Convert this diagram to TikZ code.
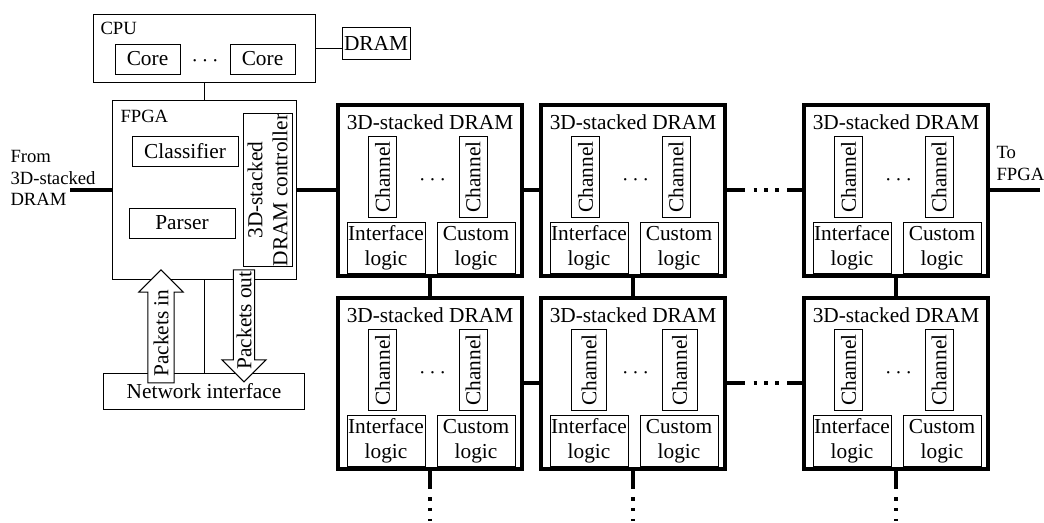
\documentclass[tikz,border=0pt]{standalone}
\usepackage{fontspec}
\setmainfont{Liberation Serif}
\usetikzlibrary{shapes.arrows}

\tikzset{every picture/.style={line width=0.75pt}}
\tikzset{
	blk/.style={draw, inner sep=0pt, align=center},
	chan/.style={blk, rotate=90, minimum width=60.75pt, minimum height=21pt},
	logicbox/.style={blk, minimum width=58.5pt, minimum height=38.25pt},
	stackbox/.style={draw, line width=3pt, minimum width=138pt, minimum height=128.25pt},
	stacktitle/.style={anchor=base, inner sep=0pt},
	dotsym/.style={inner sep=0pt, font=\fontsize{19}{19}\selectfont},
	smalllbl/.style={inner sep=0pt, font=\fontsize{14}{16}\selectfont},
	sidelabel/.style={smalllbl, anchor=north west, align=left},
	bus/.style={line width=3pt},
	busdots/.style={bus, dash pattern=on 13.5pt off 6.4pt on 2.6pt off 5.6pt on 2.6pt off 5.6pt on 2.6pt off 6.4pt on 13.5pt},
	pkt/.style={single arrow, draw, fill=white, rotate=90, inner xsep=1pt, single arrow head extend=6.75pt},
}

\begin{document}
\begin{tikzpicture}[x=0.75pt,y=0.75pt,yscale=-1,xscale=1,font=\fontsize{16}{18.75}\selectfont]
	%set diagram left start at 0, width 1044 and height 522
	\fill [white] (0,0) rectangle (1044,522) ;
	\path [use as bounding box] (0,0) rectangle (1044,522) ;
	
	%Shape: Rectangle [CPU]
	\node [blk, minimum width=166.5pt, minimum height=51pt] (cpu) at (204,48) {} ;
	% Text Node
	\node [smalllbl, anchor=base west] (cpulbl) at (100,34) {CPU} ;
	%Shape: Rectangle [cores]
	\node [blk, minimum width=48.75pt, minimum height=22.5pt] (core1) at (147.5,59) {Core} ;
	\node [blk, minimum width=48.75pt, minimum height=22.5pt] (core2) at (262.5,59) {Core} ;
	\node [dotsym] (cpudots) at (205,61) {$\cdots$} ;
	%Shape: Rectangle [host memory]
	\node [blk, minimum width=51pt, minimum height=24pt] (dram) at (376,43) {DRAM} ;
	%Straight Lines
	\draw (cpu.east) -- (cpu.east -| dram.west) ;
	
	%Shape: Rectangle [FPGA]
	\node [blk, minimum width=138pt, minimum height=134.25pt] (fpga) at (204,190) {} ;
	% Text Node
	\node [smalllbl, anchor=base west] (fpgalbl) at (120,122) {FPGA} ;
	\node [blk, minimum width=79.5pt, minimum height=22pt] (cls) at (185,151.5) {Classifier} ;
	\node [blk, minimum width=79.5pt, minimum height=22.5pt] (prs) at (182,223) {Parser} ;
	\node [blk, rotate=90, minimum width=114pt, minimum height=36.75pt] (ctrl) at (267.5,190) {3D-stacked\\DRAM controller} ;
	%Straight Lines
	\draw (cpu) -- (fpga) ;
	
	%Shape: Rectangle [network interface]
	\node [blk, minimum width=150.75pt, minimum height=27pt] (ni) at (204,391) {Network interface} ;
	%Straight Lines
	\draw (fpga) -- (ni) ;
	%Shape: Arrows
	\node [pkt, minimum height=84.75pt, inner ysep=3.9pt] (pin) at (161,333) {Packets in} ;
	\node [pkt, shape border rotate=180, minimum height=84pt, inner ysep=2pt, single arrow head extend=8.6pt] (pout) at (244,320.5) {Packets out} ;
	
	% Text Node
	\node [sidelabel] (fromlbl) at (10,150) {From\\3D-stacked\\DRAM} ;
	% Text Node
	\node [sidelabel] (tolbl) at (996,146) {To\\FPGA} ;
	\coordinate (inlet) at (70,190) ;
	\coordinate (outlet) at (1040,190) ;
	
	%Shape: Rectangle [stacks, first row]
	\node [stackbox] (d11) at (430,190) {} ;
	\node [stacktitle] (t11) at (430,129.5) {3D-stacked DRAM} ;
	\node [chan] (ca11) at (382.5,177) {Channel} ;
	\node [chan] (cb11) at (473,177) {Channel} ;
	\node [dotsym] (dt11) at (432.5,180) {$\cdots$} ;
	\node [logicbox] (il11) at (386,248) {Interface\\logic} ;
	\node [logicbox] (cl11) at (476,248) {Custom\\logic} ;
	
	\node [stackbox] (d12) at (633,190) {} ;
	\node [stacktitle] (t12) at (633,129.5) {3D-stacked DRAM} ;
	\node [chan] (ca12) at (585.5,177) {Channel} ;
	\node [chan] (cb12) at (676,177) {Channel} ;
	\node [dotsym] (dt12) at (635.5,180) {$\cdots$} ;
	\node [logicbox] (il12) at (589,248) {Interface\\logic} ;
	\node [logicbox] (cl12) at (679,248) {Custom\\logic} ;
	
	\node [stackbox] (d13) at (896,190) {} ;
	\node [stacktitle] (t13) at (896,129.5) {3D-stacked DRAM} ;
	\node [chan] (ca13) at (848.5,177) {Channel} ;
	\node [chan] (cb13) at (939,177) {Channel} ;
	\node [dotsym] (dt13) at (898.5,180) {$\cdots$} ;
	\node [logicbox] (il13) at (852,248) {Interface\\logic} ;
	\node [logicbox] (cl13) at (942,248) {Custom\\logic} ;
	
	%Shape: Rectangle [stacks, second row]
	\node [stackbox] (d21) at (430,383) {} ;
	\node [stacktitle] (t21) at (430,322.5) {3D-stacked DRAM} ;
	\node [chan] (ca21) at (382.5,370) {Channel} ;
	\node [chan] (cb21) at (473,370) {Channel} ;
	\node [dotsym] (dt21) at (432.5,373) {$\cdots$} ;
	\node [logicbox] (il21) at (386,441) {Interface\\logic} ;
	\node [logicbox] (cl21) at (476,441) {Custom\\logic} ;
	
	\node [stackbox] (d22) at (633,383) {} ;
	\node [stacktitle] (t22) at (633,322.5) {3D-stacked DRAM} ;
	\node [chan, minimum height=26.25pt] (ca22) at (589,370) {Channel} ;
	\node [chan, minimum height=26.25pt] (cb22) at (679.5,370) {Channel} ;
	\node [dotsym] (dt22) at (635.5,373) {$\cdots$} ;
	\node [logicbox] (il22) at (589,441) {Interface\\logic} ;
	\node [logicbox] (cl22) at (679,441) {Custom\\logic} ;
	
	\node [stackbox] (d23) at (896,383) {} ;
	\node [stacktitle] (t23) at (896,322.5) {3D-stacked DRAM} ;
	\node [chan] (ca23) at (848.5,370) {Channel} ;
	\node [chan] (cb23) at (939,370) {Channel} ;
	\node [dotsym] (dt23) at (898.5,373) {$\cdots$} ;
	\node [logicbox] (il23) at (852,441) {Interface\\logic} ;
	\node [logicbox] (cl23) at (942,441) {Custom\\logic} ;
	
	%Straight Lines [links]
	\draw [bus] (inlet) -- (fpga) ;
	\draw [bus] (fpga) -- (d11) ;
	\draw [bus] (d11) -- (d12) ;
	\draw [busdots] (d12) -- (d13) ;
	\draw [bus] (d13) -- (outlet) ;
	\draw [bus] (d21) -- (d22) ;
	\draw [busdots] (d22) -- (d23) ;
	\draw [bus] (d11) -- (d21) ;
	\draw [bus] (d12) -- (d22) ;
	\draw [bus] (d13) -- (d23) ;
	%Straight Lines [more stacks below]
	\coordinate (low1) at (430,521) ;
	\coordinate (low2) at (633,521) ;
	\coordinate (low3) at (896,521) ;
	\draw [busdots] (d21) -- (low1) ;
	\draw [busdots] (d22) -- (low2) ;
	\draw [busdots] (d23) -- (low3) ;
	
\end{tikzpicture}
\end{document}
